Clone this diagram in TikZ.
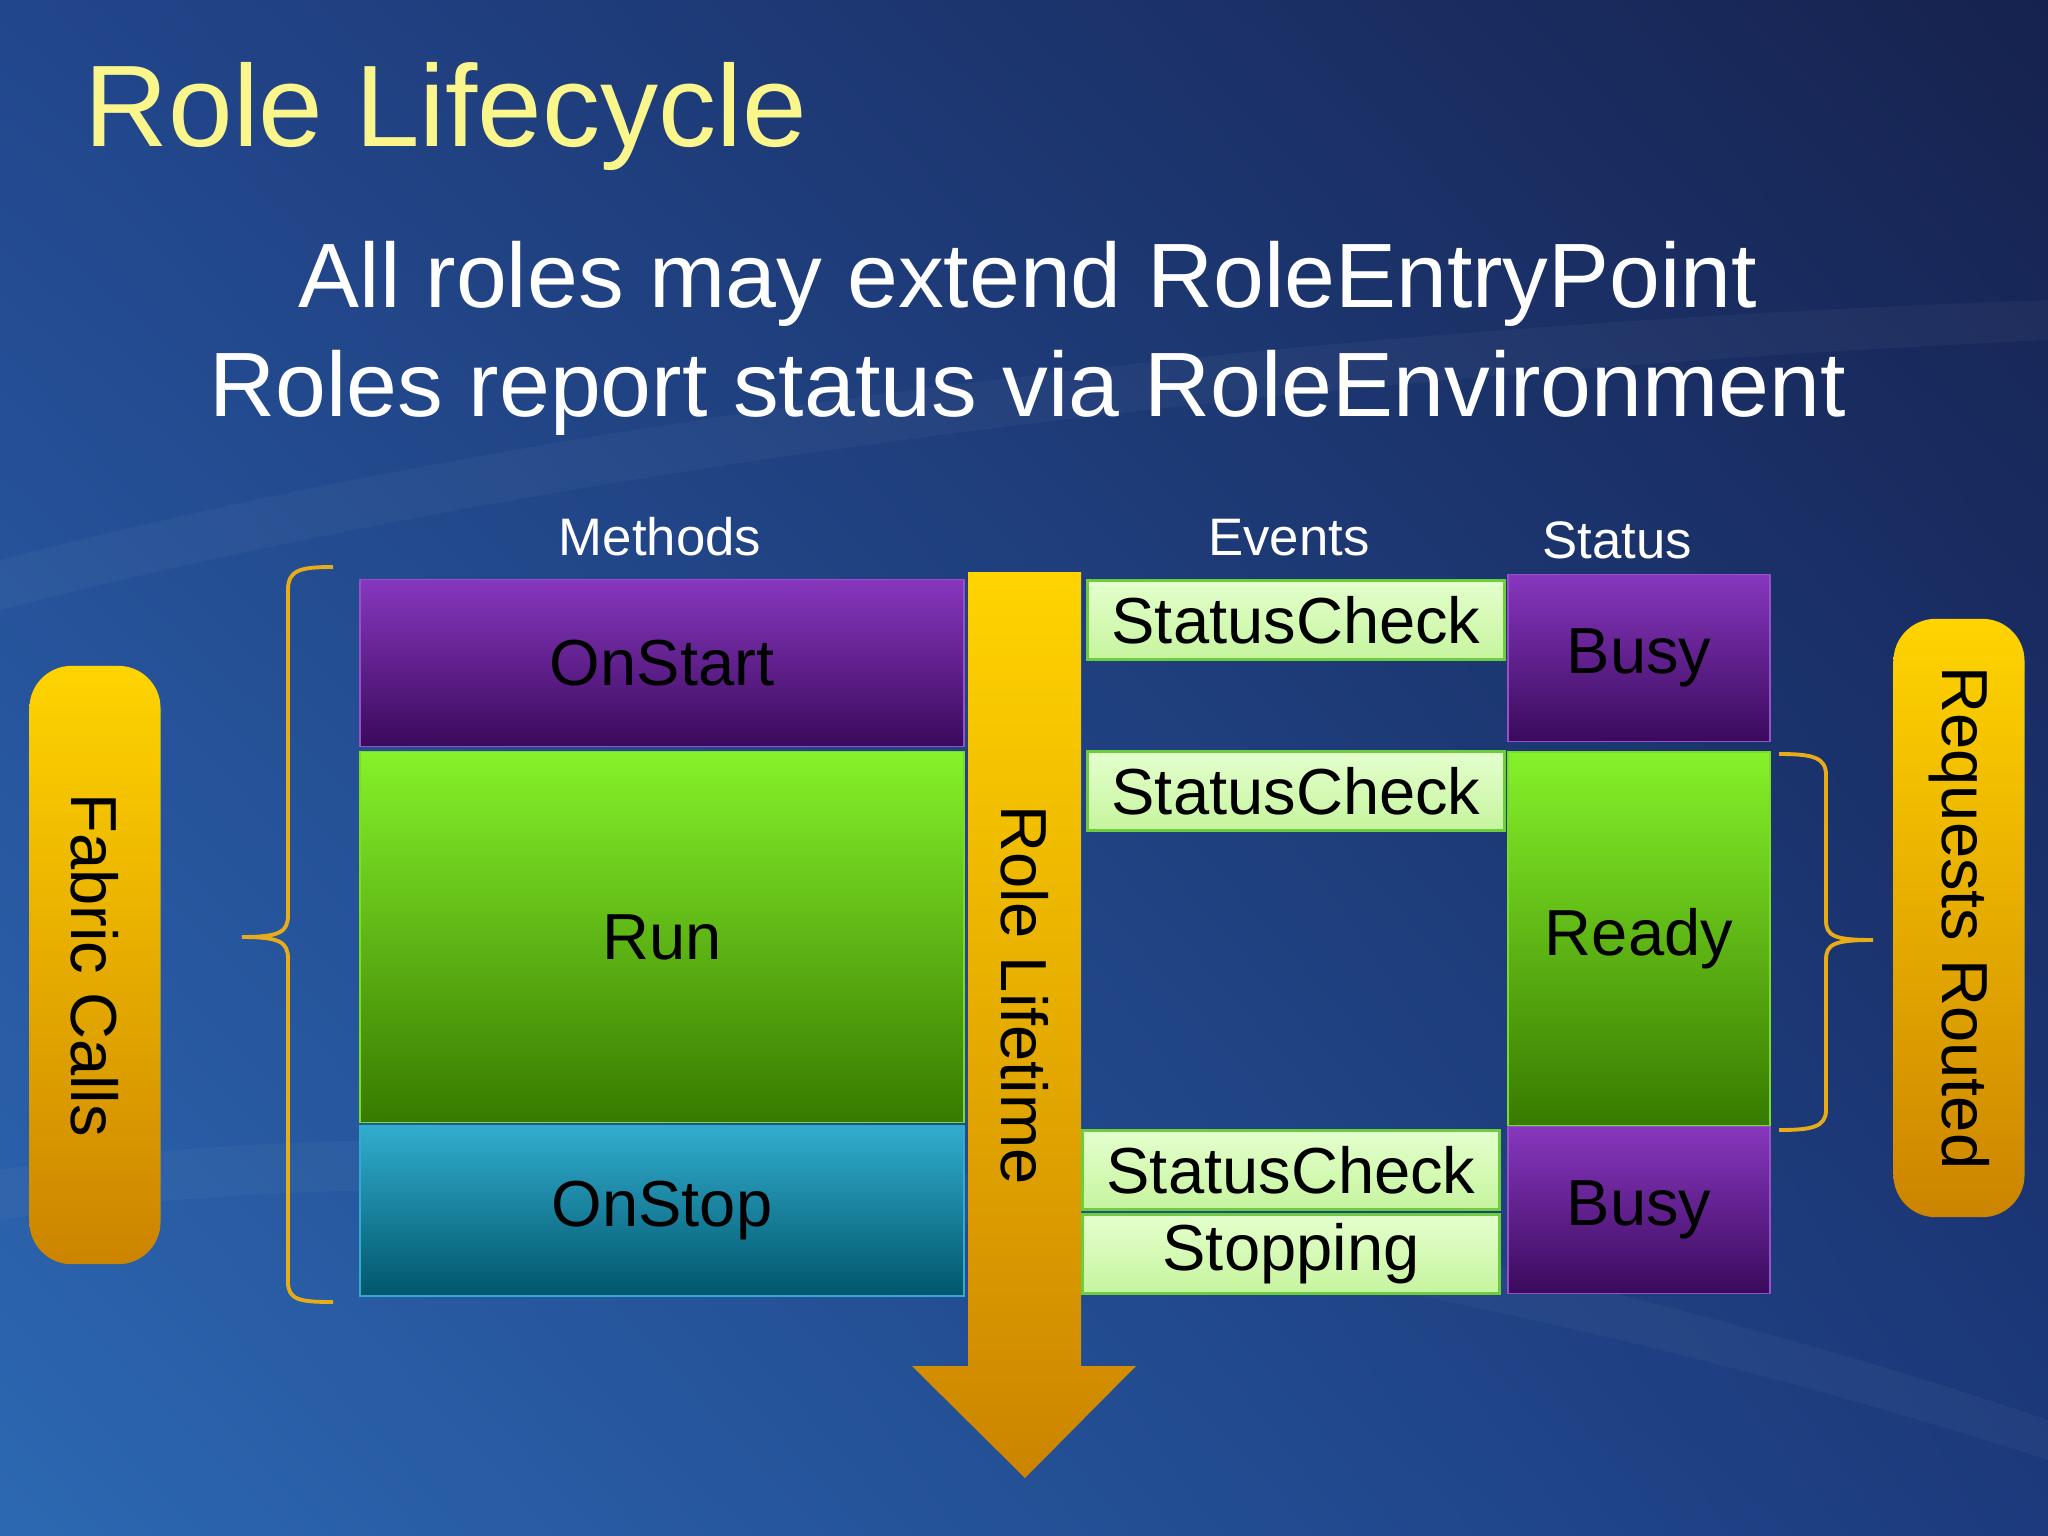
\documentclass[tikz,border=0pt]{standalone}
\usepackage{fontspec}
\setmainfont{Liberation Sans}
\usepackage{tikz}
\usetikzlibrary{positioning, calc, shadings}
\definecolor{bgul}{RGB}{34,70,140}
\definecolor{bgur}{RGB}{22,34,78}
\definecolor{bgll}{RGB}{44,104,178}
\definecolor{bglr}{RGB}{28,58,125}
\definecolor{purptop}{RGB}{135,55,190}
\definecolor{purpbot}{RGB}{58,10,92}
\definecolor{purpline}{RGB}{150,80,200}
\definecolor{grntop}{RGB}{134,242,42}
\definecolor{grnbot}{RGB}{56,122,0}
\definecolor{grnline}{RGB}{120,220,40}
\definecolor{tealtop}{RGB}{50,172,206}
\definecolor{tealbot}{RGB}{0,86,108}
\definecolor{evtop}{RGB}{228,255,205}
\definecolor{evbot}{RGB}{198,244,158}
\definecolor{evline}{RGB}{110,205,60}
\definecolor{ortop}{RGB}{255,212,0}
\definecolor{orbot}{RGB}{204,132,0}
\definecolor{bracecol}{RGB}{232,172,24}
\definecolor{titleyel}{RGB}{250,246,140}
\tikzset{
    blk/.style={rectangle, inner sep=0pt, text=black,
                font=\fontsize{18.5}{20}\selectfont},
    methbox/.style={blk, minimum width=6.04cm},
    evbox/.style={blk, minimum width=4.17cm, minimum height=0.79cm,
                  top color=evtop, bottom color=evbot, draw=evline, line width=1pt},
    statbox/.style={blk, minimum width=2.62cm},
    purp/.style={top color=purptop, bottom color=purpbot, draw=purpline},
    grn/.style={top color=grntop, bottom color=grnbot, draw=grnline},
    teal/.style={top color=tealtop, bottom color=tealbot, draw=tealtop},
    sidebar/.style={blk, rounded corners=12pt, minimum width=1.31cm,
                    minimum height=5.98cm, top color=ortop, bottom color=orbot},
    colhead/.style={font=\fontsize{15}{17}\selectfont, text=white, anchor=base, inner sep=0pt},
    brace/.style={draw=bracecol, line width=1.1pt},
}

\begin{document}
\begin{tikzpicture}[x=0.01cm, y=-0.01cm]
    \useasboundingbox (0,0) rectangle (2048,1536);
    \shade[upper left=bgul, upper right=bgur, lower left=bgll, lower right=bglr]
        (0,0) rectangle (2048,1536);
    \fill[white, opacity=0.035] (0,560) .. controls (500,430) and (1200,330) .. (2048,300)
        -- (2048,340) .. controls (1200,380) and (500,480) .. (0,610) -- cycle;
    \fill[white, opacity=0.03] (0,1170) .. controls (600,1080) and (1400,1200) .. (2048,1420)
        -- (2048,1460) .. controls (1400,1250) and (600,1130) .. (0,1220) -- cycle;

    % title and text
    \node[anchor=base west, inner sep=0pt, text=titleyel, font=\fontsize{33}{36}\selectfont]
        (title) at (84,146) {Role Lifecycle};
    \node[anchor=base, inner sep=0pt, text=white, font=\fontsize{26}{30}\selectfont]
        (line1) at (1028,307) {All roles may extend RoleEntryPoint};
    \node[anchor=base, inner sep=0pt, text=white, font=\fontsize{26}{30}\selectfont]
        (line2) at (1028,416) {Roles report status via RoleEnvironment};
    \node[colhead] (hmeth) at (660,555) {Methods};
    \node[colhead] (hev) at (1289,555) {Events};
    \node[colhead] (hstat) at (1617,558) {Status};

    % lifetime arrow
    \shade[top color=ortop, bottom color=orbot]
        (968,572) -- (1081,572) -- (1081,1366) -- (1136,1366) -- (1025,1478)
        -- (912,1366) -- (968,1366) -- cycle;
    \node[blk, rotate=-90] (life) at (1025,995) {Role Lifetime};

    % methods
    \node[methbox, purp, minimum height=1.67cm] (onstart) at (662,663) {OnStart};
    \node[methbox, grn, minimum height=3.71cm] (run) at (662,937) {Run};
    \node[methbox, teal, minimum height=1.70cm] (onstop) at (662,1211) {OnStop};

    % events
    \node[evbox] (sc1) at (1296,620) {StatusCheck};
    \node[evbox] (sc2) at (1296,791) {StatusCheck};
    \node[evbox] (sc3) at (1291,1170) {StatusCheck};
    \node[evbox] (stopping) at (1291,1254) {Stopping};

    % status
    \node[statbox, purp, minimum height=1.67cm] (busy1) at (1639,658) {Busy};
    \node[statbox, grn, minimum height=3.74cm] (ready) at (1639,939) {Ready};
    \node[statbox, purp, minimum height=1.67cm] (busy2) at (1639,1210) {Busy};

    % side labels
    \node[sidebar] (fabric) at (95,965) {};
    \node[blk, rotate=-90] at (fabric.center) {Fabric Calls};
    \node[sidebar] (routed) at (1959,918) {};
    \node[blk, rotate=-90] at (routed.center) {Requests Routed};

    % braces
    \draw[brace] (333,567) .. controls (300,567) and (288,570) .. (288,590) -- (288,915)
        .. controls (288,932) and (280,937) .. (242,937)
        .. controls (280,937) and (288,942) .. (288,959) -- (288,1282)
        .. controls (288,1300) and (300,1302) .. (333,1302);
    \draw[brace] (1779,754) .. controls (1812,754) and (1826,757) .. (1826,775) -- (1826,920)
        .. controls (1826,936) and (1834,940) .. (1873,940)
        .. controls (1834,940) and (1826,944) .. (1826,960) -- (1826,1110)
        .. controls (1826,1127) and (1812,1130) .. (1779,1130);
\end{tikzpicture}
\end{document}
